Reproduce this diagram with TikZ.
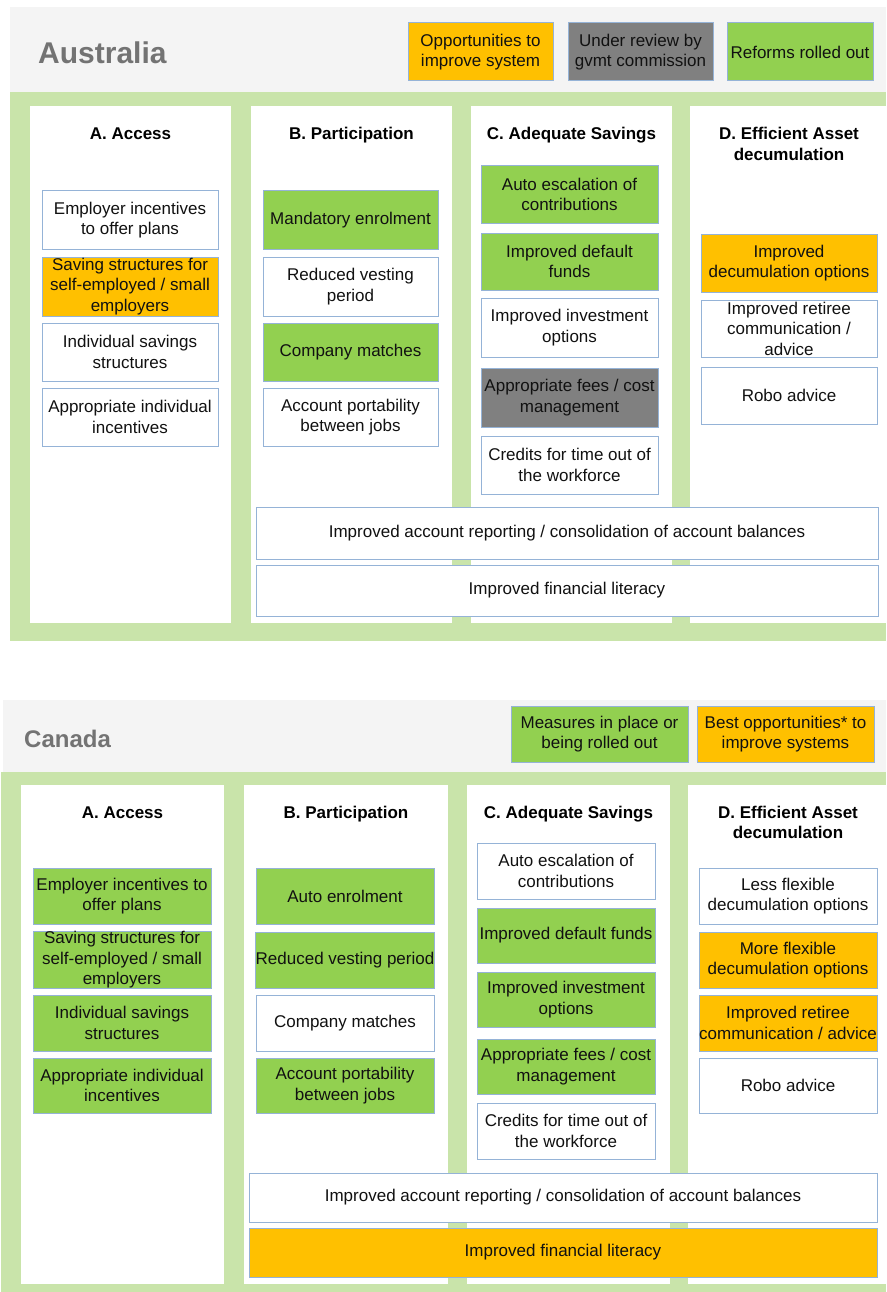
\documentclass[tikz,border=0pt]{standalone}
\usepackage{fontspec}
\setmainfont{Liberation Sans}
\definecolor{bord}{HTML}{95B3D7}
\definecolor{gfill}{HTML}{92D050}
\definecolor{ofill}{HTML}{FFC000}
\definecolor{kfill}{HTML}{808080}
\definecolor{panel}{HTML}{C9E4AA}
\definecolor{hdr}{HTML}{F4F4F4}
\definecolor{ttl}{HTML}{737373}
\definecolor{txt}{HTML}{111111}
\newcommand\mybox[7]{\node[bx,fill=#2,minimum width={(#5)-(#3)},minimum height={(#6)-(#4)}] (#1) at ({((#3)+(#5))/2},{((#4)+(#6))/2}) {#7};}
\newcommand\myrect[6]{\node[rct,fill=#2,minimum width={(#5)-(#3)},minimum height={(#6)-(#4)}] (#1) at ({((#3)+(#5))/2},{((#4)+(#6))/2}) {};}
\begin{document}
\begin{tikzpicture}[x=1pt,y=-1pt,
  bx/.style={draw=bord,line width=1pt,inner sep=0pt,outer sep=0pt,align=center,text=txt,font=\fontsize{17}{20.5}\selectfont},
  rct/.style={draw=none,inner sep=0pt,outer sep=0pt},
  colhd/.style={inner sep=0pt,anchor=base,align=center,text=black,font=\fontsize{17}{20.5}\selectfont\bfseries},
  ctitle/.style={inner sep=0pt,anchor=base west,text=ttl,font=\bfseries}]
\fill[white] (0,0) rectangle (886,1292);
\useasboundingbox (0,0) rectangle (886,1292);
% ---------------- Australia ----------------
\myrect{au-hdr}{hdr}{10}{7}{886}{92}
\myrect{au-panel}{panel}{10}{92}{886}{641}
\myrect{au-colA}{white}{30}{106}{231}{623}
\myrect{au-colB}{white}{251}{106}{452}{623}
\myrect{au-colC}{white}{471}{106}{672}{623}
\myrect{au-colD}{white}{690}{106}{886}{623}
\node[ctitle,font=\fontsize{30}{35}\selectfont\bfseries] (au-title) at (38,64) {Australia};
\mybox{au-l1}{ofill}{408}{23}{553}{81}{Opportunities to\\improve system}
\mybox{au-l2}{kfill}{568}{23}{713}{81}{Under review by\\gvmt commission}
\mybox{au-l3}{gfill}{727}{23}{873}{81}{Reforms rolled out}
\node[colhd] (au-hA) at (130.5,140) {A. Access};
\node[colhd] (au-hB) at (351.5,140) {B. Participation};
\node[colhd] (au-hC) at (571.5,140) {C. Adequate Savings};
\node[colhd] (au-hD) at (789,160.5) {D. Efficient Asset\\decumulation};
\mybox{au-a1}{white}{42}{191}{218}{249}{Employer incentives\\to offer plans}
\mybox{au-a2}{ofill}{42}{257}{218}{316}{Saving structures for\\self-employed / small\\employers}
\mybox{au-a3}{white}{42}{323}{218}{381}{Individual savings\\structures}
\mybox{au-a4}{white}{42}{388}{218}{446}{Appropriate individual\\incentives}
\mybox{au-b1}{gfill}{263}{191}{438}{249}{Mandatory enrolment}
\mybox{au-b2}{white}{263}{257}{438}{316}{Reduced vesting\\period}
\mybox{au-b3}{gfill}{263}{323}{438}{381}{Company matches}
\mybox{au-b4}{white}{263}{388}{438}{446}{Account portability\\between jobs}
\mybox{au-c1}{gfill}{481}{166}{658}{223}{Auto escalation of\\contributions}
\mybox{au-c2}{gfill}{481}{233}{658}{290}{Improved default\\funds}
\mybox{au-c3}{white}{481}{298}{658}{357}{Improved investment\\options}
\mybox{au-c4}{kfill}{481}{368}{658}{427}{Appropriate fees / cost\\management}
\mybox{au-c5}{white}{481}{436}{658}{494}{Credits for time out of\\the workforce}
\mybox{au-d1}{ofill}{701}{234}{877}{292}{Improved\\decumulation options}
\mybox{au-d2}{white}{701}{300}{877}{357}{Improved retiree\\communication /\\advice}
\mybox{au-d3}{white}{701}{367}{877}{424}{Robo advice}
\mybox{au-w1}{white}{256}{507}{878}{559}{Improved account reporting / consolidation of account balances}
\mybox{au-w2}{white}{256}{565}{878}{616}{Improved financial literacy}
% ---------------- Canada ----------------
\myrect{ca-hdr}{hdr}{3}{700}{886}{772}
\myrect{ca-panel}{panel}{1}{772}{886}{1292}
\myrect{ca-colA}{white}{21}{785}{224}{1284}
\myrect{ca-colB}{white}{244}{785}{448}{1284}
\myrect{ca-colC}{white}{467}{785}{670}{1284}
\myrect{ca-colD}{white}{688}{785}{886}{1284}
\node[ctitle,font=\fontsize{24}{29}\selectfont\bfseries] (ca-title) at (24,747.5) {Canada};
\mybox{ca-l1}{gfill}{511}{706}{688}{762}{Measures in place or\\being rolled out}
\mybox{ca-l2}{ofill}{697}{706}{874}{762}{Best opportunities* to\\improve systems}
\node[colhd] (ca-hA) at (122.5,818) {A. Access};
\node[colhd] (ca-hB) at (346,818) {B. Participation};
\node[colhd] (ca-hC) at (568.5,818) {C. Adequate Savings};
\node[colhd] (ca-hD) at (788,838.5) {D. Efficient Asset\\decumulation};
\mybox{ca-a1}{gfill}{33}{868}{211}{924}{Employer incentives to\\offer plans}
\mybox{ca-a2}{gfill}{33}{932}{211}{988}{Saving structures for\\self-employed / small\\employers}
\mybox{ca-a3}{gfill}{33}{995}{211}{1051}{Individual savings\\structures}
\mybox{ca-a4}{gfill}{33}{1058}{211}{1113}{Appropriate individual\\incentives}
\mybox{ca-b1}{gfill}{256}{868}{434}{924}{Auto enrolment}
\mybox{ca-b2}{gfill}{256}{932}{434}{988}{Reduced vesting period}
\mybox{ca-b3}{white}{256}{995}{434}{1051}{Company matches}
\mybox{ca-b4}{gfill}{256}{1058}{434}{1113}{Account portability\\between jobs}
\mybox{ca-c1}{white}{477}{843}{655}{899}{Auto escalation of\\contributions}
\mybox{ca-c2}{gfill}{477}{908}{655}{963}{Improved default funds}
\mybox{ca-c3}{gfill}{477}{972}{655}{1027}{Improved investment\\options}
\mybox{ca-c4}{gfill}{477}{1039}{655}{1094}{Appropriate fees / cost\\management}
\mybox{ca-c5}{white}{477}{1103}{655}{1159}{Credits for time out of\\the workforce}
\mybox{ca-d1}{white}{699}{868}{877}{924}{Less flexible\\decumulation options}
\mybox{ca-d2}{ofill}{699}{932}{877}{988}{More flexible\\decumulation options}
\mybox{ca-d3}{ofill}{699}{995}{877}{1051}{Improved retiree\\communication / advice}
\mybox{ca-d4}{white}{699}{1058}{877}{1113}{Robo advice}
\mybox{ca-w1}{white}{249}{1173}{877}{1222}{Improved account reporting / consolidation of account balances}
\mybox{ca-w2}{ofill}{249}{1228}{877}{1277}{Improved financial literacy}
\end{tikzpicture}
\end{document}
